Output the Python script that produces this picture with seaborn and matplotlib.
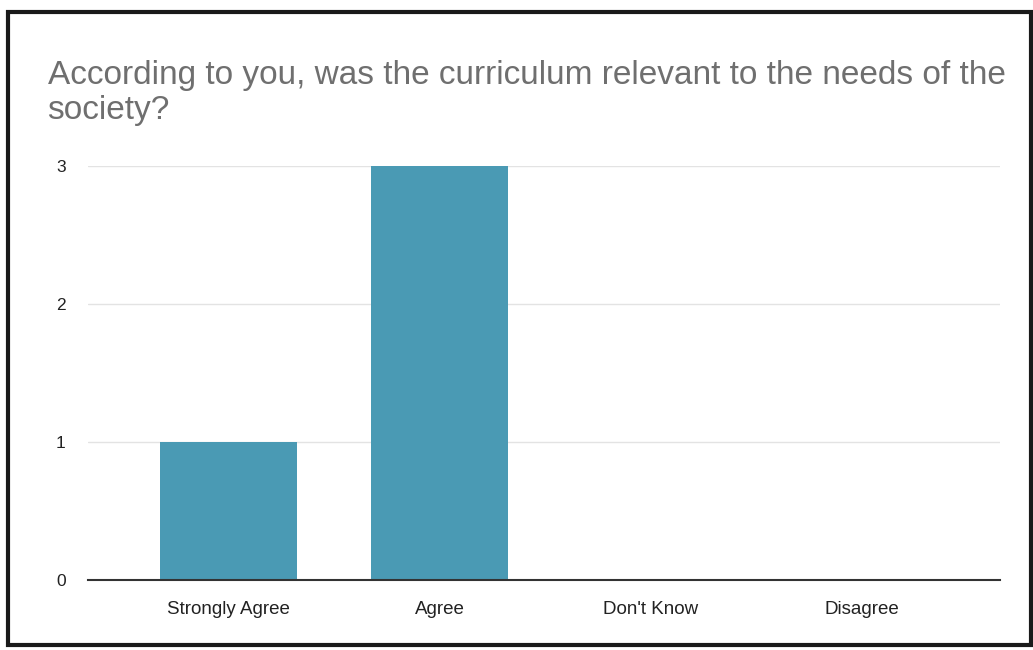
import pandas as pd
import matplotlib.pyplot as plt
import seaborn as sns
from matplotlib.patches import Rectangle

# Daten
antworten = ['Strongly Agree', 'Agree', "Don't Know", 'Disagree']
anzahl = [1, 3, 0, 0]
titel = 'According to you, was the curriculum relevant to the needs of the\nsociety?'

df = pd.DataFrame({'Antwort': antworten, 'Anzahl': anzahl})

sns.set_style('white')
plt.rcParams['font.family'] = ['Liberation Sans', 'DejaVu Sans']

fig = plt.figure(figsize=(10.33, 6.5), dpi=100)
ax = fig.add_axes([0.085, 0.1077, 0.883, 0.637])

sns.barplot(data=df, x='Antwort', y='Anzahl', color='#4a9ab4', width=0.65,
            saturation=1, linewidth=0, ax=ax, zorder=3)

ax.set_xlim(-0.668, 3.654)
ax.set_ylim(0, 3)
ax.set_yticks([0, 1, 2, 3])
ax.set_xlabel('')
ax.set_ylabel('')
ax.grid(axis='y', color='#e3e3e3', linewidth=1, zorder=0)
for s in ['top', 'right', 'left']:
    ax.spines[s].set_visible(False)
ax.spines['bottom'].set_color('#333333')
ax.spines['bottom'].set_linewidth(1.5)
ax.spines['bottom'].set_zorder(4)
ax.tick_params(axis='y', length=0, pad=16, labelsize=12.5, labelcolor='#222222')
ax.tick_params(axis='x', length=0, pad=15, labelsize=13.5, labelcolor='#222222')

# Titel
fig.text(0.046, 0.907, titel, fontsize=24, color='#6f6f6f', va='top', ha='left',
         linespacing=1.15)

# Rahmen
fig.patches.append(Rectangle((0.008, 0.008), 0.99, 0.973, transform=fig.transFigure,
                             fill=False, edgecolor='#1a1a1a', linewidth=3))

plt.savefig('out.png', dpi=100)
